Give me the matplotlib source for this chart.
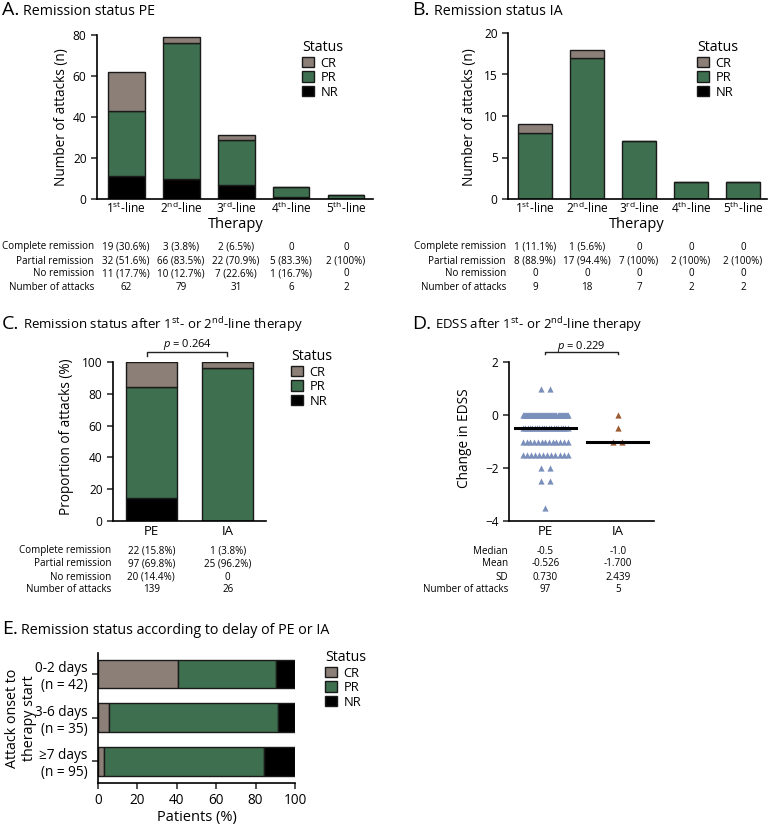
import numpy as np
import matplotlib.pyplot as plt
import matplotlib.transforms as mtransforms
from matplotlib.patches import Patch

plt.rcParams['font.family'] = ['Open Sans', 'DejaVu Sans']
plt.rcParams['mathtext.fontset'] = 'custom'
plt.rcParams['mathtext.rm'] = 'Open Sans'
plt.rcParams['mathtext.it'] = 'Open Sans:italic'
plt.rcParams['axes.linewidth'] = 1.2

## colours
cCR = '#8b7f78'
cPR = '#3e6f4f'
cNR = '#000000'
cEdge = '#1a1a1a'

## panel A / B: attacks per therapy line
lines = ['1$^{\\rm st}$-line', '2$^{\\rm nd}$-line', '3$^{\\rm rd}$-line', '4$^{\\rm th}$-line', '5$^{\\rm th}$-line']
peCR = [19, 3, 2, 0, 0]
pePR = [32, 66, 22, 5, 2]
peNR = [11, 10, 7, 1, 0]
iaCR = [1, 1, 0, 0, 0]
iaPR = [8, 17, 7, 2, 2]
iaNR = [0, 0, 0, 0, 0]

rowLabels = ['Complete remission', 'Partial remission', 'No remission', 'Number of attacks']
peTable = [['19 (30.6%)', '3 (3.8%)', '2 (6.5%)', '0', '0'],
           ['32 (51.6%)', '66 (83.5%)', '22 (70.9%)', '5 (83.3%)', '2 (100%)'],
           ['11 (17.7%)', '10 (12.7%)', '7 (22.6%)', '1 (16.7%)', '0'],
           ['62', '79', '31', '6', '2']]
iaTable = [['1 (11.1%)', '1 (5.6%)', '0', '0', '0'],
           ['8 (88.9%)', '17 (94.4%)', '7 (100%)', '2 (100%)', '2 (100%)'],
           ['0', '0', '0', '0', '0'],
           ['9', '18', '7', '2', '2']]

## panel C: proportion after 1st/2nd line
groups = ['PE', 'IA']
cPctCR = [15.8, 3.8]
cPctPR = [69.8, 96.2]
cPctNR = [14.4, 0.0]
cTable = [['22 (15.8%)', '1 (3.8%)'],
          ['97 (69.8%)', '25 (96.2%)'],
          ['20 (14.4%)', '0'],
          ['139', '26']]

## panel D: change in EDSS
peEdssVals = [1.0, 0.0, -0.5, -1.0, -1.5, -2.0, -2.5, -3.5]
peEdssCounts = [2, 45, 20, 13, 12, 2, 2, 1]
iaEdss = [0.0, -0.5, -1.0, -1.0, -6.0]
medians = [-0.5, -1.0]
dRowLabels = ['Median', 'Mean', 'SD', 'Number of attacks']
dTable = [['-0.5', '-1.0'], ['-0.526', '-1.700'], ['0.730', '2.439'], ['97', '5']]

## panel E: delay
delays = ['0-2 days\n(n = 42)', '3-6 days\n(n = 35)', '\u22657 days\n(n = 95)']
eCR = [40.5, 5.7, 3.2]
ePR = [50.0, 85.7, 81.0]
eNR = [9.5, 8.6, 15.8]

W, H = 770, 826
TICK_FS = 8.6
TAB_FS = 7.1


def px(x, y):
    return x / W, 1 - y / H


def rect(l, t, r, b):
    return [l / W, 1 - b / H, (r - l) / W, (b - t) / H]


def style(ax):
    ax.spines['top'].set_visible(False)
    ax.spines['right'].set_visible(False)
    ax.tick_params(length=4, width=1.1, labelsize=TICK_FS, color='#222222')


def title(fig, x1, x2, y, letter, text, fs=10.3):
    fig.text(*px(x1, y), letter, fontsize=14, va='baseline')
    fig.text(*px(x2, y), text, fontsize=fs, va='baseline')


def legend(ax, fig, x, y):
    handles = [Patch(facecolor=c, edgecolor=cEdge, lw=1) for c in [cCR, cPR, cNR]]
    lg = ax.legend(handles, ['CR', 'PR', 'NR'], title='Status', loc='upper left',
                   bbox_to_anchor=px(x, y), bbox_transform=fig.transFigure,
                   frameon=False, borderpad=0, borderaxespad=0, handlelength=0.95,
                   handleheight=0.85, handletextpad=0.5, labelspacing=0.12,
                   fontsize=9.3, title_fontsize=10.2, alignment='left')
    return lg


def table(ax, fig, rowsY, labels, cells, labelX, fs=TAB_FS):
    trans = mtransforms.blended_transform_factory(ax.transData, fig.transFigure)
    for y, lab, vals in zip(rowsY, labels, cells):
        fig.text(*px(labelX, y), lab, ha='right', va='center', fontsize=fs)
        for i, v in enumerate(vals):
            ax.text(i, 1 - y / H, v, transform=trans, ha='center', va='center',
                    fontsize=fs, clip_on=False)


def stack_bars(ax, nr, pr, cr, width):
    x = np.arange(len(nr))
    nr, pr, cr = np.array(nr), np.array(pr), np.array(cr)
    ax.bar(x, nr, width, color=cNR, edgecolor=cEdge, lw=1)
    ax.bar(x, pr, width, bottom=nr, color=cPR, edgecolor=cEdge, lw=1)
    ax.bar(x, cr, width, bottom=nr + pr, color=cCR, edgecolor=cEdge, lw=1)


fig = plt.figure(figsize=(7.7, 8.26), dpi=100)

## A
ax = fig.add_axes(rect(97, 35, 373, 199))
stack_bars(ax, peNR, pePR, peCR, 0.67)
ax.set_xlim(-0.53, 4.49)
ax.set_ylim(0, 80)
ax.set_yticks([0, 20, 40, 60, 80])
ax.set_xticks(range(5))
ax.set_xticklabels(lines)
style(ax)
ax.tick_params(axis='x', length=0, pad=1)
fig.text(*px(236, 225), 'Therapy', ha='center', va='center', fontsize=10.5)
fig.text(*px(61, 117), 'Number of attacks (n)', rotation=90, ha='center', va='center', fontsize=9.8)
legend(ax, fig, 302, 40)
table(ax, fig, [247, 261, 274, 287], rowLabels, peTable, 94)
title(fig, 2, 23, 15, 'A.', 'Remission status PE')

## B
ax = fig.add_axes(rect(508, 33, 767, 199))
stack_bars(ax, iaNR, iaPR, iaCR, 0.67)
ax.set_xlim(-0.52, 4.46)
ax.set_ylim(0, 20)
ax.set_yticks([0, 5, 10, 15, 20])
ax.set_xticks(range(5))
ax.set_xticklabels(lines)
style(ax)
ax.tick_params(axis='x', length=0, pad=1)
fig.text(*px(637, 225), 'Therapy', ha='center', va='center', fontsize=10.5)
fig.text(*px(470, 117), 'Number of attacks (n)', rotation=90, ha='center', va='center', fontsize=9.8)
legend(ax, fig, 697, 40)
table(ax, fig, [247, 261, 274, 287], rowLabels, iaTable, 506)
title(fig, 412, 434, 15, 'B.', 'Remission status IA')

## C
ax = fig.add_axes(rect(113, 362, 266, 521))
stack_bars(ax, cPctNR, cPctPR, cPctCR, 0.67)
ax.set_xlim(-0.5, 1.5)
ax.set_ylim(0, 100)
ax.set_yticks([0, 20, 40, 60, 80, 100])
ax.set_xticks([0, 1])
ax.set_xticklabels(groups)
style(ax)
ax.tick_params(axis='x', length=0, pad=3, labelsize=9.5)
ax.plot([-0.05, -0.05, 0.99, 0.99], [103.5, 106, 106, 103.5], color='#222222', lw=1, clip_on=False)
ax.text(0.47, 109.5, '$p$ = 0.264', ha='center', va='baseline', fontsize=8)
fig.text(*px(66, 437), 'Proportion of attacks (%)', rotation=90, ha='center', va='center', fontsize=9.8)
legend(ax, fig, 291, 349)
table(ax, fig, [551, 564, 577, 590], rowLabels, cTable, 111)
title(fig, 2, 23, 329, 'C.', 'Remission status after 1$^{\\rm st}$- or 2$^{\\rm nd}$-line therapy', fs=9.5)

## D
ax = fig.add_axes(rect(509, 362, 654, 521))
xs, ys = [], []
for v, k in zip(peEdssVals, peEdssCounts):
    step = min(0.12, 0.62 / max(k - 1, 1))
    xs += list((np.arange(k) - (k - 1) / 2) * step)
    ys += [v] * k
ax.scatter(xs, ys, marker='^', s=20, color='#7b8fbb', lw=0)
iaX = [0, 0, -0.06, 0.06, 0]
ax.scatter(1 + np.array(iaX), iaEdss, marker='^', s=20, color='#9b5a30', lw=0)
for i, m in enumerate(medians):
    ax.plot([i - 0.42, i + 0.42], [m, m], color='black', lw=2.2)
ax.set_xlim(-0.5, 1.5)
ax.set_ylim(-4, 2)
ax.set_yticks([-4, -2, 0, 2])
ax.set_xticks([0, 1])
ax.set_xticklabels(groups)
style(ax)
ax.tick_params(axis='x', length=0, pad=3, labelsize=9.5)
ax.plot([0, 0, 1, 1], [2.29, 2.38, 2.38, 2.29], color='#222222', lw=1, clip_on=False)
ax.text(0.5, 2.5, '$p$ = 0.229', ha='center', va='baseline', fontsize=8)
fig.text(*px(464, 438), 'Change in EDSS', rotation=90, ha='center', va='center', fontsize=9.8)
table(ax, fig, [551, 564, 577, 590], dRowLabels, dTable, 508)
title(fig, 412, 435, 329, 'D.', 'EDSS after 1$^{\\rm st}$- or 2$^{\\rm nd}$-line therapy', fs=9.5)

## E
ax = fig.add_axes(rect(98, 653, 295, 783))
y = np.arange(3)
cr, pr, nr = np.array(eCR), np.array(ePR), np.array(eNR)
ax.barh(y, cr, 0.66, color=cCR, edgecolor=cEdge, lw=1)
ax.barh(y, pr, 0.66, left=cr, color=cPR, edgecolor=cEdge, lw=1)
ax.barh(y, nr, 0.66, left=cr + pr, color=cNR, edgecolor=cEdge, lw=1)
ax.set_xlim(0, 100)
ax.set_ylim(2.5, -0.48)
ax.set_yticks(y)
ax.set_yticklabels(delays, multialignment='right')
ax.set_xticks([0, 20, 40, 60, 80, 100])
style(ax)
ax.tick_params(labelsize=9.8)
fig.text(*px(197, 818), 'Patients (%)', ha='center', va='center', fontsize=10.5)
fig.text(*px(21, 718), 'Attack onset to\ntherapy start', rotation=90, ha='center', va='center', fontsize=10.3)
legend(ax, fig, 325, 650)
title(fig, 2, 21, 634, 'E.', 'Remission status according to delay of PE or IA')

fig.savefig('out.png', dpi=100)
